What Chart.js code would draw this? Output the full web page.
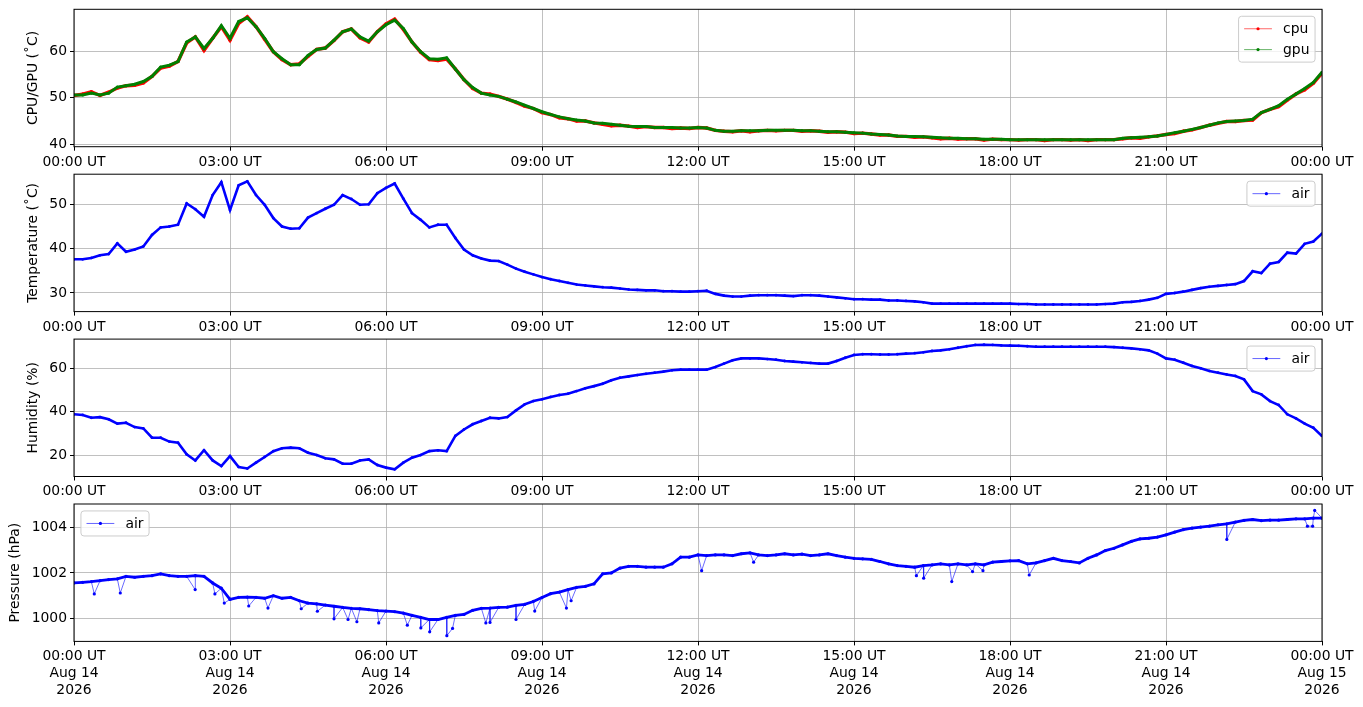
<!DOCTYPE html>
<html><head><meta charset="utf-8">
<script src="https://cdn.jsdelivr.net/npm/chart.js@4.4.0/dist/chart.umd.min.js"></script>
<style>
html,body{margin:0;padding:0;background:#fff;width:1363px;height:707px;overflow:hidden;}
canvas{position:absolute;left:0;}
</style></head><body>
<canvas id="c1"></canvas>
<canvas id="c2"></canvas>
<canvas id="c3"></canvas>
<canvas id="c4"></canvas>
<script>
// ---------------- DATA ----------------
const hourTicks  = [0, 3, 6, 9, 12, 15, 18, 21, 24];
const hourLabels = ["00:00 UT","03:00 UT","06:00 UT","09:00 UT","12:00 UT","15:00 UT","18:00 UT","21:00 UT","00:00 UT"];
const dateLabels = ["Aug 14","Aug 14","Aug 14","Aug 14","Aug 14","Aug 14","Aug 14","Aug 14","Aug 15"];
const yearLabels = ["2026","2026","2026","2026","2026","2026","2026","2026","2026"];
const sampleStepMin = 10; // one value every 10 minutes, 00:00 .. 24:00

const gpuTemp = [
 50.6,50.6,51.0,50.6,51.0,52.3,52.6,52.9,53.5,54.6,
 56.6,57.0,57.8,62.0,63.1,60.6,62.8,65.5,62.8,66.4,
 67.2,65.3,62.8,59.9,58.4,57.1,57.1,59.1,60.4,60.7,
 62.4,64.2,64.8,63.1,62.2,64.2,65.7,66.7,64.9,62.0,
 59.9,58.4,58.3,58.6,56.2,53.9,52.2,51.0,50.6,50.3,
 49.7,49.1,48.4,47.7,47.0,46.4,45.9,45.5,45.2,45.0,
 44.6,44.5,44.3,44.1,43.9,43.8,43.8,43.6,43.6,43.6,
 43.5,43.5,43.6,43.5,43.0,42.8,42.8,42.9,42.9,42.9,
 43.0,43.0,43.0,43.0,42.9,42.9,42.8,42.7,42.7,42.6,
 42.5,42.4,42.2,42.1,42.0,41.8,41.7,41.7,41.6,41.5,
 41.4,41.3,41.3,41.2,41.2,41.1,41.1,41.1,41.0,41.0,
 41.0,41.0,41.0,41.0,41.0,41.0,41.0,41.0,41.0,41.0,
 41.0,41.3,41.4,41.5,41.6,41.8,42.1,42.5,42.8,43.2,
 43.6,44.1,44.6,44.9,45.0,45.1,45.4,46.8,47.5,48.3,
 49.7,50.8,52.0,53.3,55.5];
const cpuTemp = [
 50.5,50.8,51.3,50.5,51.2,52.1,52.6,52.7,53.2,54.6,
 56.4,56.8,57.8,61.8,63.1,60.2,62.8,65.3,62.4,66.0,
 67.4,65.3,62.6,59.9,58.2,57.1,57.3,58.9,60.4,60.7,
 62.3,64.2,64.8,62.9,62.0,64.2,65.9,66.9,64.7,62.0,
 59.8,58.2,58.0,58.3,56.2,53.9,52.0,51.0,50.8,50.3,
 49.7,49.0,48.2,47.7,46.8,46.4,45.7,45.5,45.0,45.0,
 44.6,44.3,44.0,44.1,43.9,43.6,43.8,43.6,43.6,43.4,
 43.5,43.4,43.6,43.5,43.0,42.8,42.7,42.9,42.7,42.9,
 43.0,42.9,43.0,43.0,42.8,42.9,42.8,42.6,42.7,42.6,
 42.3,42.4,42.2,42.0,42.0,41.7,41.7,41.5,41.6,41.4,
 41.2,41.3,41.1,41.2,41.2,40.9,41.1,41.0,41.0,40.9,
 41.0,41.0,40.8,41.0,41.0,40.9,41.0,40.8,41.0,41.0,
 41.0,41.2,41.4,41.3,41.6,41.8,42.1,42.3,42.8,43.1,
 43.6,44.1,44.5,44.9,44.9,45.1,45.2,46.8,47.5,48.1,
 49.5,50.8,51.7,53.1,55.3];
const airTemp = [
 37.6,37.6,37.9,38.5,38.8,41.2,39.3,39.8,40.5,43.1,
 44.8,45.0,45.4,50.2,48.9,47.2,52.1,55.0,48.7,54.3,
 55.2,52.1,49.9,46.9,45.0,44.5,44.6,47.0,48.0,49.0,
 49.9,52.1,51.2,49.9,50.0,52.5,53.7,54.7,51.3,48.0,
 46.5,44.8,45.4,45.4,42.4,39.8,38.5,37.8,37.3,37.2,
 36.4,35.5,34.8,34.2,33.6,33.1,32.7,32.3,31.9,31.7,
 31.5,31.3,31.2,31.0,30.8,30.7,30.6,30.6,30.4,30.4,
 30.3,30.3,30.4,30.5,29.8,29.4,29.2,29.2,29.4,29.5,
 29.5,29.5,29.4,29.3,29.5,29.5,29.4,29.2,29.0,28.8,
 28.6,28.6,28.5,28.5,28.3,28.3,28.2,28.1,27.9,27.6,
 27.6,27.6,27.6,27.6,27.6,27.6,27.6,27.6,27.6,27.5,
 27.5,27.4,27.4,27.4,27.4,27.4,27.4,27.4,27.4,27.5,
 27.6,27.9,28.0,28.2,28.5,28.9,29.8,30.0,30.3,30.7,
 31.1,31.4,31.6,31.8,32.0,32.7,34.9,34.5,36.6,37.0,
 39.1,38.9,41.1,41.6,43.4];
const airHumidity = [
 38.8,38.5,37.2,37.5,36.5,34.5,34.9,32.9,32.3,28.0,
 28.0,26.2,25.7,20.3,17.5,22.2,17.5,14.9,19.5,14.5,
 13.8,16.5,19.1,21.8,23.1,23.4,23.1,21.1,20.0,18.5,
 18.0,16.0,16.0,17.5,18.0,15.4,14.2,13.4,16.5,18.8,
 20.0,21.8,22.2,21.8,28.8,31.8,34.2,35.7,37.2,36.9,
 37.5,40.6,43.4,44.9,45.7,46.8,47.7,48.3,49.5,50.8,
 51.8,52.9,54.5,55.7,56.3,56.9,57.5,58.0,58.5,59.1,
 59.4,59.4,59.4,59.4,60.6,62.2,63.7,64.6,64.6,64.6,
 64.3,64.0,63.4,63.1,62.8,62.5,62.2,62.2,63.4,64.9,
 66.2,66.5,66.5,66.4,66.4,66.5,66.8,67.0,67.4,68.0,
 68.3,68.8,69.5,70.2,70.8,70.9,70.8,70.6,70.5,70.4,
 70.2,70.0,70.0,70.0,70.0,70.0,70.0,70.0,70.0,70.0,
 69.8,69.5,69.2,68.8,68.3,66.8,64.6,64.0,62.6,61.1,
 60.0,58.8,58.0,57.2,56.5,54.9,49.5,48.0,44.9,43.1,
 38.8,36.9,34.5,32.6,28.8];
const airPressure = [
 1001.56,1001.59,1001.62,1001.66,1001.71,1001.74,1001.85,1001.81,1001.85,1001.88,
 1001.96,1001.88,1001.85,1001.85,1001.88,1001.85,1001.56,1001.33,1000.84,1000.93,
 1000.94,1000.93,1000.89,1001.00,1000.89,1000.93,1000.78,1000.68,1000.64,1000.59,
 1000.54,1000.49,1000.45,1000.43,1000.39,1000.35,1000.33,1000.30,1000.24,1000.14,
 1000.05,999.96,999.96,1000.05,1000.14,1000.18,1000.36,1000.45,1000.46,1000.49,
 1000.50,1000.58,1000.62,1000.75,1000.92,1001.09,1001.16,1001.27,1001.37,1001.41,
 1001.52,1001.96,1002.00,1002.21,1002.29,1002.29,1002.25,1002.25,1002.25,1002.40,
 1002.69,1002.69,1002.79,1002.76,1002.79,1002.79,1002.76,1002.84,1002.88,1002.79,
 1002.76,1002.79,1002.84,1002.79,1002.82,1002.76,1002.79,1002.84,1002.76,1002.69,
 1002.64,1002.62,1002.59,1002.50,1002.40,1002.32,1002.29,1002.25,1002.32,1002.35,
 1002.40,1002.35,1002.40,1002.35,1002.40,1002.35,1002.47,1002.50,1002.53,1002.54,
 1002.40,1002.44,1002.54,1002.64,1002.54,1002.50,1002.44,1002.64,1002.79,1002.98,
 1003.08,1003.23,1003.38,1003.49,1003.52,1003.57,1003.67,1003.79,1003.90,1003.96,
 1004.01,1004.05,1004.11,1004.15,1004.23,1004.30,1004.34,1004.29,1004.31,1004.31,
 1004.34,1004.37,1004.37,1004.40,1004.40];
// short single-sample drops / spikes in pressure (hour of day, hPa)
const presSpikeHours  = [0.39,0.89,2.33,2.71,2.89,3.36,3.73,4.37,4.68,5.00,5.27,5.44,5.86,6.41,6.67,6.84,7.17,7.28,7.92,8.00,8.50,8.86,9.47,9.56,12.07,13.07,16.20,16.34,16.88,17.28,17.48,18.37,22.17,23.72,23.82,23.86];
const presSpikeValues = [1001.08,1001.12,1001.27,1001.08,1000.68,1000.55,1000.46,1000.43,1000.32,999.99,999.96,999.86,999.81,999.71,999.59,999.42,999.25,999.57,999.81,999.83,999.96,1000.33,1000.46,1000.78,1002.10,1002.47,1001.88,1001.77,1001.62,1002.06,1002.10,1001.91,1003.47,1004.05,1004.05,1004.74];

const yTicksCpu = [40, 50, 60];
const yTicksAir = [30, 40, 50];
const yTicksHum = [20, 40, 60];
const yTicksPres = [1000, 1002, 1004];

// ---------------- HELPERS ----------------
Chart.defaults.font.family = '"DejaVu Sans", sans-serif';
Chart.defaults.font.size = 13.9;
Chart.defaults.color = '#000';

function toPoints(values) { return values.map((v, i) => ({ x: i * sampleStepMin / 60, y: v })); }
function withSpikes(values, hrs, vals) {
  const pts = toPoints(values).concat(hrs.map((h, i) => ({ x: h, y: vals[i] })));
  pts.sort((a, b) => a.x - b.x);
  return pts;
}

const FS = 13.9;
function framePlugin(legend) {
  return {
    id: 'frame',
    afterDraw(chart) {
      const ctx = chart.ctx, a = chart.chartArea;
      ctx.save();
      ctx.strokeStyle = '#000'; ctx.lineWidth = 1;
      ctx.strokeRect(a.left, a.top, a.right - a.left, a.bottom - a.top);
      // legend
      const pad = 0.4 * FS, hl = 2 * FS, tp = 0.8 * FS, ap = 0.5 * FS, ls = 0.5 * FS;
      ctx.font = FS + 'px "DejaVu Sans"';
      let tw = 0;
      legend.items.forEach(it => { tw = Math.max(tw, ctx.measureText(it.label).width); });
      const w = 2 * pad + hl + tp + tw;
      const h = 2 * pad + legend.items.length * FS + (legend.items.length - 1) * ls;
      const x0 = legend.side === 'left' ? a.left + ap : a.right - ap - w;
      const y0 = a.top + ap;
      ctx.beginPath();
      if (ctx.roundRect) ctx.roundRect(x0, y0, w, h, 3); else ctx.rect(x0, y0, w, h);
      ctx.fillStyle = 'rgba(255,255,255,0.8)'; ctx.fill();
      ctx.strokeStyle = 'rgba(204,204,204,1)'; ctx.lineWidth = 1; ctx.stroke();
      legend.items.forEach((it, i) => {
        const cy = y0 + pad + i * (FS + ls) + FS / 2;
        const hx = x0 + pad;
        ctx.strokeStyle = it.line; ctx.lineWidth = 1;
        ctx.beginPath(); ctx.moveTo(hx, cy); ctx.lineTo(hx + hl, cy); ctx.stroke();
        ctx.fillStyle = it.color;
        ctx.beginPath(); ctx.arc(hx + hl / 2, cy, 1.6, 0, Math.PI * 2); ctx.fill();
        ctx.fillStyle = '#000'; ctx.textBaseline = 'middle'; ctx.textAlign = 'left';
        ctx.fillText(it.label, hx + hl + tp, cy + 1);
      });
      ctx.restore();
    }
  };
}

const PLOT_H = 137.4;
function makeChart(id, cfg) {
  const cv = document.getElementById(id);
  const top = Math.floor(cfg.plotTop) - 14;
  const padTop = cfg.plotTop - top;
  cv.style.top = top + 'px';
  cv.width = 1363; cv.height = cfg.canvasH;
  const xAxisH = cfg.canvasH - padTop - PLOT_H;
  return new Chart(cv, {
    type: 'line',
    data: { datasets: cfg.datasets },
    options: {
      responsive: false, animation: false, events: [],
      layout: { padding: { top: padTop, right: 41, left: 0, bottom: 0 } },
      plugins: { legend: { display: false }, tooltip: { enabled: false } },
      scales: {
        x: {
          type: 'linear', min: 0, max: 24,
          afterBuildTicks: s => { s.ticks = hourTicks.map(v => ({ value: v })); },
          afterFit: s => { s.height = xAxisH; },
          ticks: { autoSkip: false, maxRotation: 0, minRotation: 0, padding: 3, font: { size: FS, lineHeight: 1.2 },
                   callback: (v, i) => cfg.xLabel(i) },
          grid: { color: '#b0b0b0', lineWidth: 0.8, tickColor: '#000', tickLength: 4, tickWidth: 1 },
          border: { display: false }
        },
        y: {
          min: cfg.yMin, max: cfg.yMax,
          afterBuildTicks: s => { s.ticks = cfg.yTicks.map(v => ({ value: v })); },
          afterFit: s => { s.width = 74; },
          ticks: { padding: 3, callback: v => String(v) },
          grid: { color: '#b0b0b0', lineWidth: 0.8, tickColor: '#000', tickLength: 4, tickWidth: 1 },
          border: { display: false },
          title: { display: true, text: cfg.yTitle, font: { size: FS, lineHeight: 1.2 }, padding: { top: cfg.titlePad, bottom: 0 } }
        }
      }
    },
    plugins: [framePlugin(cfg.legend)]
  });
}

function series(data, color, width, radius) {
  return { data, borderColor: color, backgroundColor: color, borderWidth: width, pointRadius: radius,
           pointBorderWidth: 0, pointBackgroundColor: color, tension: 0, fill: false };
}

const RED = '#ff0000', GREEN = '#008000', BLUE = '#0000ff';
const simpleLabel = i => hourLabels[i];
const fullLabel = i => [hourLabels[i], dateLabels[i], yearLabels[i]];

// Chart.js paints dataset 0 on top, so gpu (drawn over cpu in the reference) comes first
makeChart('c1', {
  plotTop: 9.3, canvasH: 178, yMin: 39.48, yMax: 69.03, yTicks: yTicksCpu,
  yTitle: 'CPU/GPU (˚C)', titlePad: 24.6, xLabel: simpleLabel,
  datasets: [series(toPoints(gpuTemp), GREEN, 3, 1.5), series(toPoints(cpuTemp), RED, 3.4, 1.7)],
  legend: { side: 'right', items: [
    { label: 'cpu', color: RED, line: 'rgba(255,0,0,0.6)' },
    { label: 'gpu', color: GREEN, line: 'rgba(0,128,0,0.6)' }] }
});
makeChart('c2', {
  plotTop: 174.2, canvasH: 178, yMin: 25.8, yMax: 56.8, yTicks: yTicksAir,
  yTitle: 'Temperature (˚C)', titlePad: 24.6, xLabel: simpleLabel,
  datasets: [series(toPoints(airTemp), BLUE, 2.6, 1.4)],
  legend: { side: 'right', items: [{ label: 'air', color: BLUE, line: 'rgba(0,0,255,0.6)' }] }
});
makeChart('c3', {
  plotTop: 339.1, canvasH: 178, yMin: 10.1, yMax: 73.5, yTicks: yTicksHum,
  yTitle: 'Humidity (%)', titlePad: 24.6, xLabel: simpleLabel,
  datasets: [series(toPoints(airHumidity), BLUE, 2.6, 1.4)],
  legend: { side: 'right', items: [{ label: 'air', color: BLUE, line: 'rgba(0,0,255,0.6)' }] }
});
const presAll = withSpikes(airPressure, presSpikeHours, presSpikeValues);
makeChart('c4', {
  plotTop: 504.0, canvasH: 217, yMin: 999.0, yMax: 1005.02, yTicks: yTicksPres,
  yTitle: 'Pressure (hPa)', titlePad: 7.1, xLabel: fullLabel,
  datasets: [series(toPoints(airPressure), BLUE, 2.8, 0),
             Object.assign(series(presAll, 'rgba(0,0,255,0.65)', 0.9, 1.6), { pointBackgroundColor: BLUE })],
  legend: { side: 'left', items: [{ label: 'air', color: BLUE, line: 'rgba(0,0,255,0.6)' }] }
});
</script>
</body></html>
